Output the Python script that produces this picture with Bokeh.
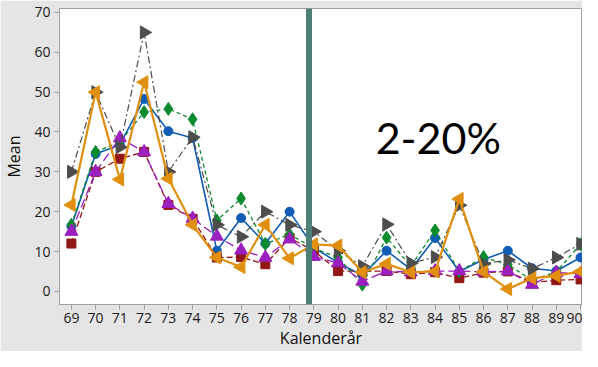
import math
from bokeh.plotting import figure
from bokeh.models import Range1d, FixedTicker, Span, Label, ColumnDataSource
from bokeh.embed import file_html
from bokeh.resources import INLINE

years = list(range(69, 91))
year_labels = [str(y) for y in years]

blue   = [16.3, 34.5, 36.8, 48.3, 40.2, 38.5, 10.2, 18.4, 12.0, 20.0, 11.0, 7.2, 4.0, 10.2, 5.5, 13.4, 5.0, 8.0, 10.2, 5.8, 5.1, 8.5]
green  = [16.7, 35.0, 37.5, 45.0, 45.8, 43.2, 17.8, 23.3, 11.9, 14.3, 10.8, 8.5, 1.7, 13.5, 6.3, 15.3, 5.0, 8.6, 6.7, 2.8, 4.9, 11.8]
gray   = [30.0, 50.0, 36.2, 65.0, 30.0, 38.7, 16.7, 13.7, 20.0, 16.7, 15.0, 10.2, 6.3, 16.8, 7.1, 8.6, 21.6, 6.9, 7.9, 5.7, 8.5, 11.9]
orange = [21.7, 50.0, 28.1, 52.5, 28.3, 16.7, 8.5, 6.1, 16.7, 8.3, 11.8, 11.5, 4.8, 6.9, 4.8, 5.0, 23.2, 4.9, 0.6, 3.3, 3.9, 5.0]
purple = [15.0, 30.0, 38.5, 35.0, 22.0, 18.3, 13.8, 10.3, 8.5, 13.1, 8.7, 7.1, 2.5, 5.1, 4.8, 5.1, 5.1, 4.9, 5.1, 1.7, 4.7, 4.4]
red    = [12.0, 30.0, 33.3, 35.0, 21.7, 18.2, 8.5, 8.6, 6.8, 13.4, 10.2, 5.1, 5.1, 5.1, 4.3, 4.8, 3.3, 4.7, 5.0, 2.2, 2.8, 3.0]

divider_year = 78.8
annotation_text = "2-20%"

p = figure(width=582, height=351, output_backend="svg", toolbar_location=None,
           x_range=Range1d(68.51, 90.08), y_range=Range1d(-3.3, 71.0),
           min_border_left=51, min_border_right=0, min_border_top=8, min_border_bottom=40)

p.border_fill_color = "#e5e5e5"
p.background_fill_color = "white"
p.outline_line_color = "#a0a0a0"
p.xgrid.visible = False
p.ygrid.visible = False

# series: (values, color, marker, angle, size, dash, width)
series = [
    (blue,   "#0f5db5", "circle",   0.0,         9,  "solid",     1.6),
    (red,    "#921818", "square",   0.0,         9,  "6 3",       1.3),
    (green,  "#0b8a2e", "diamond",  0.0,         13, "4 3",       1.3),
    (purple, "#9c1fbf", "triangle", 0.0,         13, "9 4",       1.3),
    (gray,   "#4d4d4d", "triangle", -math.pi/2,  13, "7 3 2 3",   1.2),
    (orange, "#e0900e", "triangle", math.pi/2,   13, "solid",     2.2),
]

for vals, col, mk, ang, sz, dash, lw in series:
    src = ColumnDataSource(dict(x=years, y=vals))
    p.line("x", "y", source=src, line_color=col, line_dash=dash, line_width=lw)
    p.scatter("x", "y", source=src, marker=mk, angle=ang, size=sz,
              fill_color=col, line_color=col)

p.add_layout(Span(location=divider_year, dimension="height",
                  line_color="#4e8078", line_width=6))

p.add_layout(Label(x=81.55, y=38.5, text=annotation_text, text_font="Lato",
                   text_font_size="43px", text_color="black",
                   text_baseline="alphabetic", text_align="left"))

for ax in (p.xaxis, p.yaxis):
    ax.axis_line_color = "#a0a0a0"
    ax.major_tick_line_color = "#a0a0a0"
    ax.major_tick_out = 5
    ax.major_tick_in = 0
    ax.minor_tick_line_color = None
    ax.major_label_text_font = "Open Sans"
    ax.major_label_text_font_size = "14px"
    ax.major_label_text_color = "#1a1a1a"
    ax.axis_label_text_font = "Open Sans"
    ax.axis_label_text_font_style = "normal"
    ax.axis_label_text_color = "#111111"
    ax.axis_label_text_font_size = "16px"

p.xaxis.ticker = FixedTicker(ticks=years)
p.xaxis.major_label_overrides = {y: s for y, s in zip(years, year_labels)}
p.yaxis.ticker = FixedTicker(ticks=[0, 10, 20, 30, 40, 50, 60, 70])
p.xaxis.axis_label = "Kalenderår"
p.yaxis.axis_label = "Mean"
p.xaxis.axis_label_standoff = 1
p.yaxis.axis_label_standoff = 6
p.xaxis.major_label_standoff = 3
p.yaxis.major_label_standoff = 4

open("out.html", "w").write(file_html(p, INLINE))
